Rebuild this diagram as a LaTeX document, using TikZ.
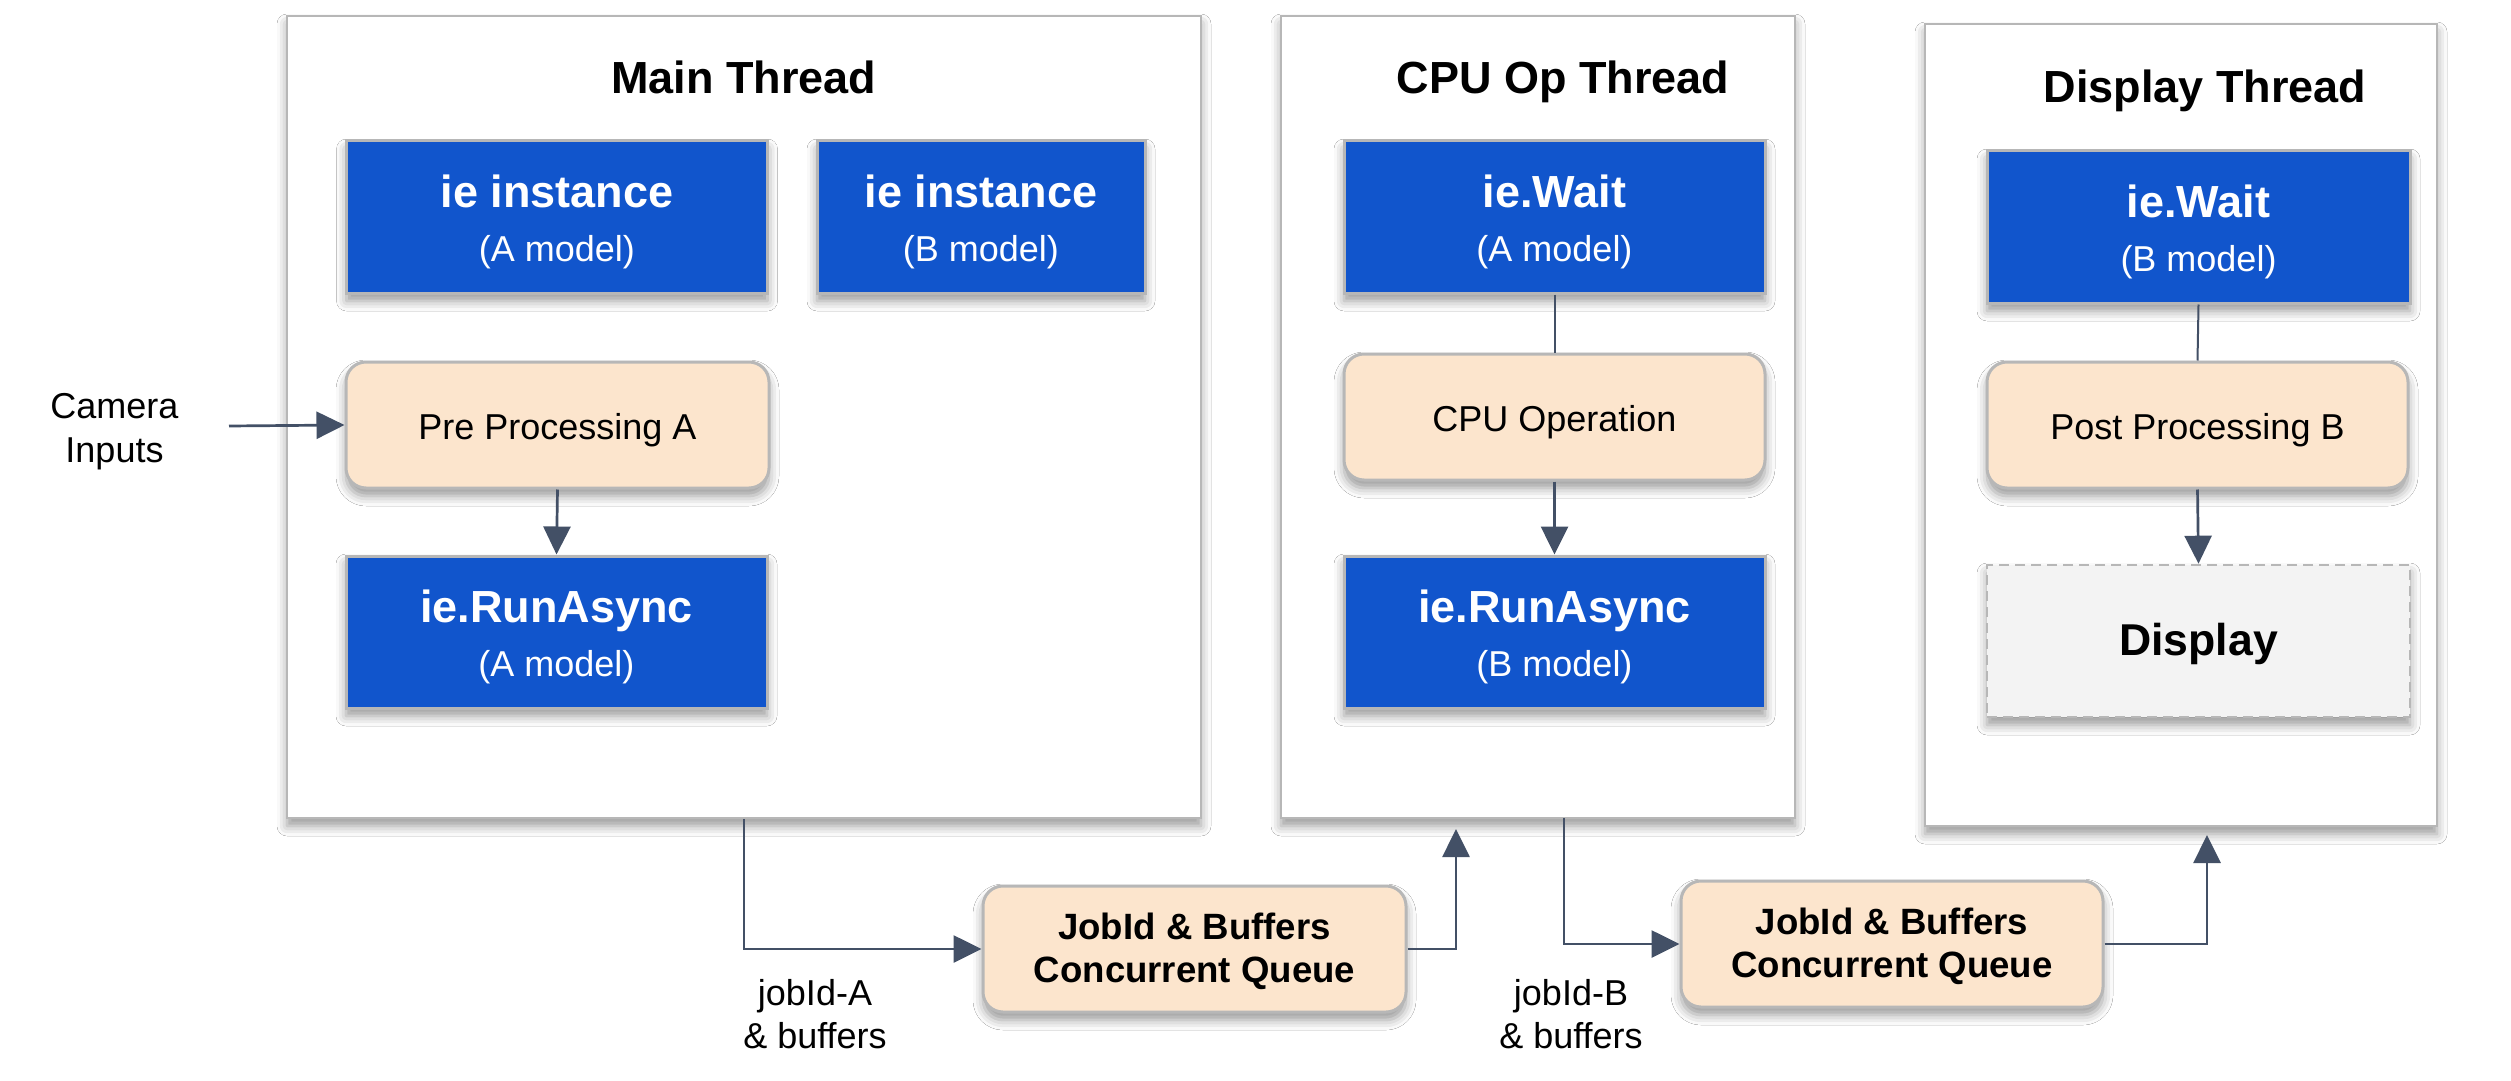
\documentclass[tikz,border=0pt]{standalone}
\usepackage{fontspec}
\setmainfont{Liberation Sans}
\usetikzlibrary{arrows.meta,shadows.blur}
\definecolor{gblue}{HTML}{1155CC}
\definecolor{gorange}{HTML}{FCE5CD}
\definecolor{ggray}{HTML}{B7B7B7}
\definecolor{garrow}{HTML}{435066}
\definecolor{gdisp}{HTML}{F3F3F3}
\newcommand{\bt}[1]{{\fontsize{22.5}{27}\selectfont\bfseries #1}}
\begin{document}
\begin{tikzpicture}[x=0.5pt,y=-0.5pt,
  shad/.style={blur shadow={shadow xshift=0pt,shadow yshift=-4pt,shadow blur radius=5pt,shadow opacity=40}},
  frame/.style={draw=ggray,line width=1.3pt,fill=white,shad,inner sep=0pt,minimum height=401pt},
  ttl/.style={anchor=base,font=\fontsize{22.5}{27}\selectfont\bfseries},
  bluebox/.style={draw=ggray,line width=1.5pt,fill=gblue,text=white,shad,align=center,minimum height=76pt,font=\fontsize{18}{27}\selectfont,inner sep=0pt,text height=50pt,text depth=6pt},
  orbox/.style={draw=ggray,line width=1.5pt,fill=gorange,rounded corners=10pt,shad,align=center,minimum height=63pt,font=\fontsize{18}{21.5}\selectfont,inner sep=0pt,text height=18pt,text depth=4pt},
  qbox/.style={orbox,font=\fontsize{18.3}{21.5}\selectfont\bfseries,text height=39pt,text depth=6pt},
  dispbox/.style={draw=ggray,line width=1.3pt,dash pattern=on 5pt off 3pt,fill=gdisp,shad,minimum height=76pt,font=\fontsize{22.3}{26}\selectfont\bfseries,inner sep=0pt,text height=19.2pt,text depth=4.7pt},
  arr/.style={draw=garrow,line width=1.35pt,-{Triangle[length=14pt,width=13.5pt]}},
  ln/.style={draw=garrow,line width=1pt},
  lbl/.style={anchor=base,align=center,font=\fontsize{18}{21.5}\selectfont}
]
\fill[white] (0,0) rectangle (2511,1081);
\useasboundingbox (0,0) rectangle (2511,1081);

% thread frames
\node[frame,minimum width=457pt] (mainF) at (744,417) {};
\node[frame,minimum width=257pt] (cpuF) at (1538,417) {};
\node[frame,minimum width=256pt] (dispF) at (2181,425) {};

\node[ttl] (mainT) at (744,94) {Main Thread};
\node[ttl] (cpuT) at (1563,94) {CPU Op Thread};
\node[ttl] (dispT) at (2205,103) {Display Thread};

% blue boxes
\node[bluebox,minimum width=210.5pt] (ieA) at (557,217) {\bt{ie instance}\\(A model)};
\node[bluebox,minimum width=164pt] (ieB) at (981,217) {\bt{ie instance}\\(B model)};
\node[bluebox,minimum width=210.5pt] (waitA) at (1554.5,217) {\bt{ie.Wait}\\(A model)};
\node[bluebox,minimum width=211.5pt] (waitB) at (2198.5,227) {\bt{ie.Wait}\\(B model)};
\node[bluebox,minimum width=210.5pt] (runA) at (556.5,632) {\bt{ie.RunAsync}\\(A model)};
\node[bluebox,minimum width=210.5pt] (runB) at (1554.5,632) {\bt{ie.RunAsync}\\(B model)};
\node[dispbox,minimum width=211.5pt] (disp) at (2198.5,641) {Display};

% orange boxes
\node[orbox,minimum width=211.5pt] (pre) at (557.5,425) {Pre Processing A};
\node[orbox,minimum width=210.5pt] (cpuop) at (1554.5,417) {CPU Operation};
\node[orbox,minimum width=210.5pt] (post) at (2197.5,425) {Post Processing B};
\node[qbox,minimum width=211.5pt] (q1) at (1194.5,949) {JobId \& Buffers\\Concurrent Queue};
\node[qbox,minimum width=211pt] (q2) at (1892,944) {JobId \& Buffers\\Concurrent Queue};

% labels (anchor = baseline of last line)
\node[lbl,font=\fontsize{18}{22}\selectfont] (cam) at (114.5,462) {Camera\\Inputs};
\node[lbl] (jobA) at (815,1048) {jobId-A\\\& buffers};
\node[lbl] (jobB) at (1571,1048) {jobId-B\\\& buffers};

% connector end points
\coordinate (camOut) at (229,426);
\coordinate (cpuIn) at (1456,829);
\coordinate (cpuOut) at (1564,818);
\coordinate (dispIn) at (2207,835);

% connectors
\draw[arr] (camOut) -- (pre.west);
\draw[arr] (pre.south) -- (runA.north);
\draw[ln] (waitA.south) -- (cpuop.north);
\draw[arr] (cpuop.south) -- (runB.north);
\draw[ln] (waitB.south) -- (post.north);
\draw[arr] (post.south) -- (disp.north);
\draw[arr] (mainF.south) |- (q1.west);
\draw[arr] (q1.east) -| (cpuIn);
\draw[arr] (cpuOut) |- (q2.west);
\draw[arr] (q2.east) -| (dispIn);
\end{tikzpicture}
\end{document}
